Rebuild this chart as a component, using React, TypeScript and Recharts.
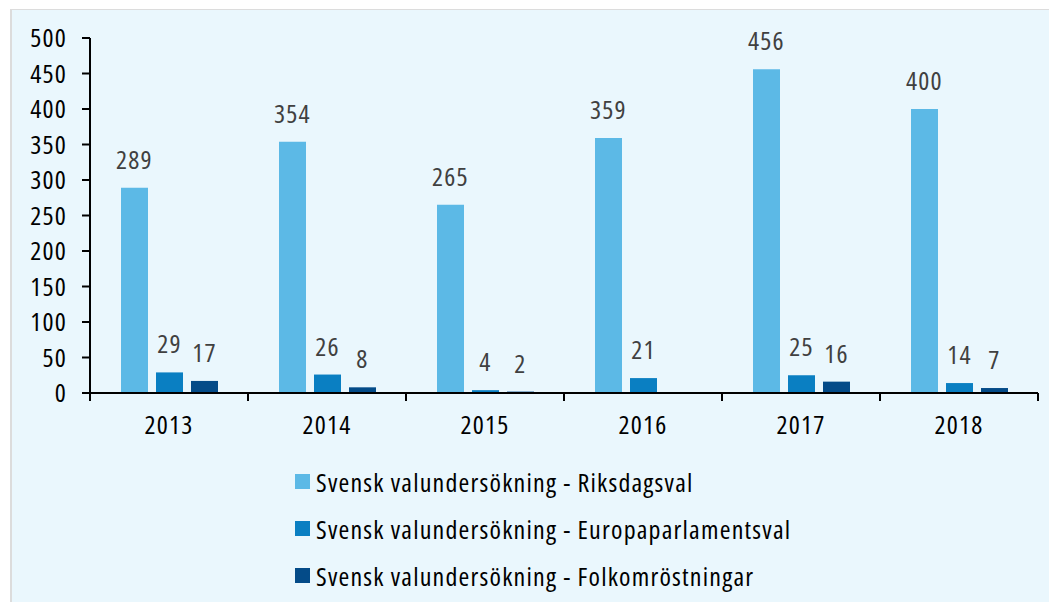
import { BarChart, Bar, XAxis, YAxis, Legend, LabelList } from "recharts";

const years = ["2013", "2014", "2015", "2016", "2017", "2018"];
const riksdagsval = [289, 354, 265, 359, 456, 400];
const europaparlamentsval = [29, 26, 4, 21, 25, 14];
const folkomrostningar: (number | null)[] = [17, 8, 2, null, 16, 7];
const yTicks = [0, 50, 100, 150, 200, 250, 300, 350, 400, 450, 500];

const seriesDefs = [
  { key: "riks", name: "Svensk valundersökning - Riksdagsval", color: "#5cb9e6" },
  { key: "euro", name: "Svensk valundersökning - Europaparlamentsval", color: "#0a7fc2" },
  { key: "folk", name: "Svensk valundersökning - Folkomröstningar", color: "#044b88" },
];

const data = years.map((y, i) => ({
  year: y,
  riks: riksdagsval[i],
  euro: europaparlamentsval[i],
  folk: folkomrostningar[i],
}));

const CHART_W = 1045;
const CHART_H = 592;
const MARGIN = { top: 28, right: 19, left: 0, bottom: 0 };
const Y_W = 78;
const BAND = (CHART_W - MARGIN.left - MARGIN.right - Y_W) / years.length;
const FONT = "'Open Sans', sans-serif";
const FS = 26;

// category tick: boundary tick marks, label centered
const YearTick = (props: any) => {
  const { x, y, payload, index } = props;
  const axisY = y - 23;
  const half = BAND / 2;
  return (
    <g>
      <line x1={x - half} x2={x - half} y1={axisY} y2={axisY + 8} stroke="#000" strokeWidth={2} />
      {index === years.length - 1 && (
        <line x1={x + half} x2={x + half} y1={axisY} y2={axisY + 8} stroke="#000" strokeWidth={2} />
      )}
      <text x={x} y={y} dy="0.71em" textAnchor="middle" fill="#000" fontSize={FS} fontFamily={FONT}>
        {payload.value}
      </text>
    </g>
  );
};

const LegendBox = () => (
  <div style={{ paddingTop: 15, paddingLeft: 283, fontFamily: FONT, fontSize: FS, color: "#000" }}>
    {seriesDefs.map((s) => (
      <div key={s.key} style={{ height: 47, display: "flex", alignItems: "center" }}>
        <span style={{ width: 15, height: 15, background: s.color, marginRight: 6, display: "inline-block" }} />
        <span>{s.name}</span>
      </div>
    ))}
  </div>
);

const fmt = (v: any) => (v == null ? "" : v);

export default function App() {
  return (
    <div
      style={{
        marginLeft: 2,
        marginTop: 1,
        width: CHART_W,
        height: CHART_H,
        background: "#eaf7fd",
        borderTop: "1px solid #dcdcdc",
        borderLeft: "2px solid #dcdcdc",
        fontFamily: FONT,
        fontStretch: "condensed",
        fontWeight: 400,
        letterSpacing: "1.2px",
      }}
    >
      <BarChart
        width={CHART_W}
        height={CHART_H}
        data={data}
        margin={MARGIN}
        barSize={27}
        barGap={8}
      >
        <XAxis
          dataKey="year"
          height={50}
          tickLine={false}
          tickSize={8}
          tickMargin={15}
          axisLine={{ stroke: "#000", strokeWidth: 2 }}
          tick={<YearTick />}
          interval={0}
        />
        <YAxis
          width={Y_W}
          domain={[0, 500]}
          ticks={yTicks}
          interval={0}
          tickSize={8}
          tickMargin={15}
          axisLine={{ stroke: "#000", strokeWidth: 2 }}
          tickLine={{ stroke: "#000", strokeWidth: 2 }}
          tick={{ fill: "#000", fontSize: FS, fontFamily: FONT }}
        />
        <Legend
          verticalAlign="bottom"
          height={159}
          wrapperStyle={{ left: 0, width: CHART_W }}
          content={<LegendBox />}
        />
        {seriesDefs.map((s) => (
          <Bar key={s.key} dataKey={s.key} name={s.name} fill={s.color} isAnimationActive={false}>
            <LabelList
              dataKey={s.key}
              position="top"
              offset={19}
              formatter={fmt}
              fill="#404040"
              fontSize={FS}
              fontFamily={FONT}
            />
          </Bar>
        ))}
      </BarChart>
    </div>
  );
}
